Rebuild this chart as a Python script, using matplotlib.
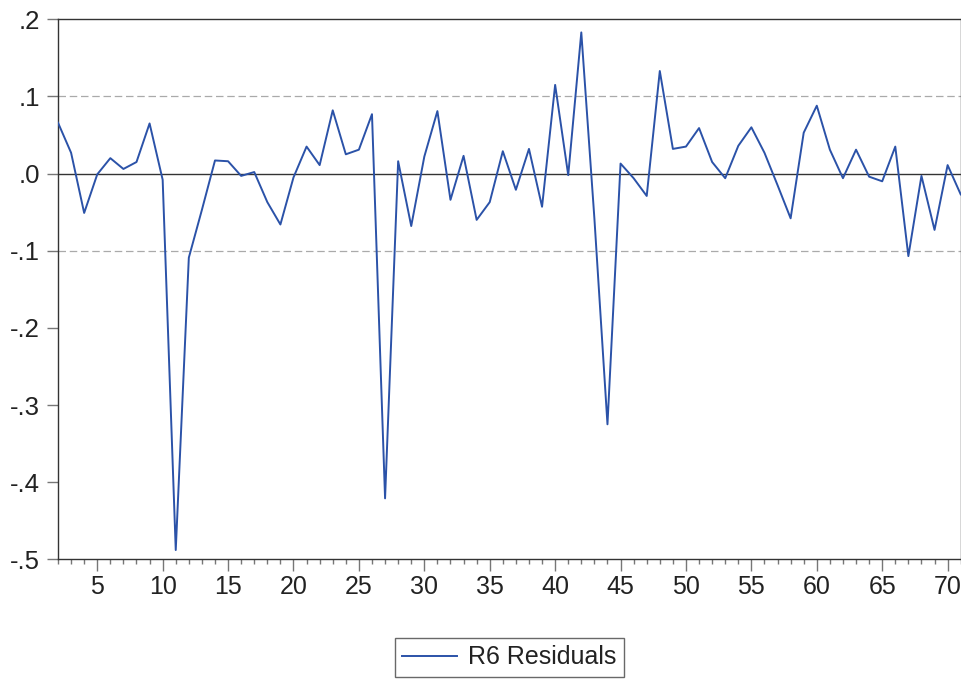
import matplotlib
matplotlib.use("Agg")
import matplotlib.pyplot as plt
from matplotlib.ticker import MultipleLocator, FixedLocator, FuncFormatter

plt.rcParams['font.family'] = ['Liberation Sans', 'DejaVu Sans']

obs = list(range(2, 72))
residuals = [
    0.066, 0.027, -0.051, -0.001, 0.020, 0.006, 0.015, 0.065, -0.008, -0.488,
    -0.109, -0.047, 0.017, 0.016, -0.003, 0.002, -0.037, -0.066, -0.005, 0.035,
    0.011, 0.082, 0.025, 0.031, 0.077, -0.421, 0.016, -0.068, 0.022, 0.081,
    -0.034, 0.023, -0.060, -0.037, 0.029, -0.021, 0.032, -0.043, 0.115, -0.002,
    0.183, -0.058, -0.325, 0.013, -0.006, -0.029, 0.133, 0.032, 0.035, 0.059,
    0.015, -0.006, 0.036, 0.060, 0.027, -0.015, -0.058, 0.053, 0.088, 0.031,
    -0.006, 0.031, -0.004, -0.010, 0.035, -0.107, -0.003, -0.073, 0.011, -0.027,
]
series_label = "R6 Residuals"
y_ticks = [0.2, 0.1, 0.0, -0.1, -0.2, -0.3, -0.4, -0.5]
x_major = [5, 10, 15, 20, 25, 30, 35, 40, 45, 50, 55, 60, 65, 70]

W, H = 962, 680
fig = plt.figure(figsize=(W / 100, H / 100), dpi=100)
ax = fig.add_axes([58 / W, 1 - 559.3 / H, (960.7 - 58) / W, 540 / H])

ax.axhline(0.1, color='#aaaaaa', lw=0.9, ls=(0, (6, 3)), zorder=1)
ax.axhline(-0.1, color='#aaaaaa', lw=0.9, ls=(0, (6, 3)), zorder=1)
ax.axhline(0.0, color='#333333', lw=1.0, zorder=1)

line, = ax.plot(obs, residuals, color='#2b52a8', lw=1.4, zorder=3, label=series_label)

ax.set_xlim(2, 71)
ax.set_ylim(-0.5, 0.2)

def yfmt(v, pos):
    s = f"{v:.1f}"
    return s.replace("0.", ".")
ax.yaxis.set_major_locator(FixedLocator(y_ticks))
ax.yaxis.set_major_formatter(FuncFormatter(yfmt))
ax.xaxis.set_major_locator(FixedLocator(x_major))
ax.xaxis.set_minor_locator(MultipleLocator(1))

ax.tick_params(axis='y', which='major', direction='out', length=7.8, width=1.0,
               color='#777777', labelsize=18.5, labelcolor='#222222', pad=5)
ax.tick_params(axis='x', which='major', direction='out', length=8.4, width=1.0,
               color='#777777', labelsize=18, labelcolor='#222222', pad=3)
ax.tick_params(axis='x', which='minor', direction='out', length=3.6, width=1.0,
               color='#777777')

for sp in ax.spines.values():
    sp.set_color('#333333')
    sp.set_linewidth(1.0)

leg = fig.legend(handles=[line], loc='center', bbox_to_anchor=(509.5 / W, 1 - 657.5 / H),
                 fontsize=18, frameon=True, fancybox=False, handlelength=2.2,
                 handletextpad=0.45, borderpad=0.3, borderaxespad=0)
leg.get_frame().set_edgecolor('#444444')
leg.get_frame().set_linewidth(1.0)
for t in leg.get_texts():
    t.set_color('#222222')

fig.savefig("out.png", dpi=100)
